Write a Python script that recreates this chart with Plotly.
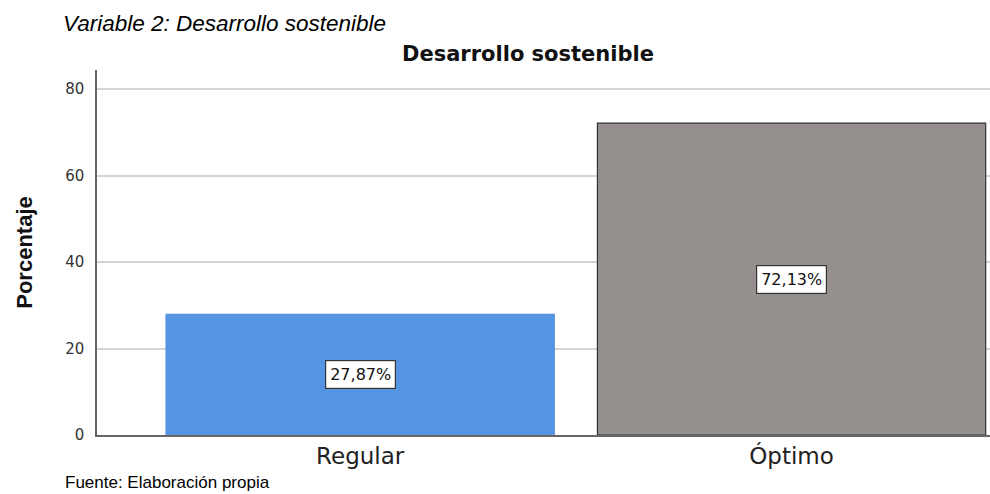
import plotly.graph_objects as go

categories = ["Regular", "Óptimo"]
values = [27.87, 72.13]
labels = ["27,87%", "72,13%"]
bar_colors = ["#5494E3", "#958F8E"]
line_colors = ["#5494E3", "#333333"]
y_ticks = [0, 20, 40, 60, 80]

WIDE = "DejaVu Sans, Verdana, sans-serif"
ARIAL = "Liberation Sans, Arial, sans-serif"

fig = go.Figure()
fig.add_trace(go.Bar(
    x=categories, y=values, width=0.9,
    marker=dict(color=bar_colors, line=dict(color=line_colors, width=1.2)),
    hoverinfo="skip",
))

for c, v, t in zip(categories, values, labels):
    fig.add_annotation(x=c, y=v / 2, text=t, showarrow=False,
                       font=dict(family=WIDE, size=16, color="#111"),
                       bgcolor="white", bordercolor="#333", borderwidth=1.2, borderpad=4)

fig.add_annotation(xref="paper", yref="paper", x=0.483, y=1.0, yanchor="bottom", yshift=2,
                   text="<b>Desarrollo sostenible</b>", showarrow=False,
                   font=dict(family=WIDE, size=21, color="#111"))
fig.add_annotation(xref="paper", yref="paper", x=-0.04, xanchor="left", y=1.0, yanchor="bottom", yshift=32,
                   text="<i>Variable 2: Desarrollo sostenible</i>", showarrow=False,
                   font=dict(family=ARIAL, size=22.5, color="#000"))
fig.add_annotation(xref="paper", yref="paper", x=-0.038, xanchor="left", y=0, yanchor="top", yshift=-36,
                   text="Fuente: Elaboración propia", showarrow=False,
                   font=dict(family=ARIAL, size=17, color="#000"))

fig.update_layout(
    width=990, height=494,
    margin=dict(l=97, r=0, t=70, b=59),
    paper_bgcolor="white", plot_bgcolor="white",
    showlegend=False,
    bargap=0.1,
    xaxis=dict(range=[-0.61, 1.46], showgrid=False, showline=True, linecolor="#666", linewidth=1.5,
               tickfont=dict(family=WIDE, size=23, color="#222"), ticks=""),
    yaxis=dict(range=[0, 84.4], tickvals=y_ticks, showgrid=True, gridcolor="#d4d4d4", gridwidth=1.5,
               showline=True, linecolor="#666", linewidth=1.5, zeroline=False, ticks="",
               ticklabelstandoff=8,
               tickfont=dict(family=WIDE, size=15, color="#333"),
               title=dict(text="<b>Porcentaje</b>", standoff=26,
                          font=dict(family=ARIAL, size=22, color="#111"))),
)

fig.write_html("out.html", config={"displayModeBar": False},
               post_script="document.body.style.margin='0';document.body.style.overflow='hidden';")
